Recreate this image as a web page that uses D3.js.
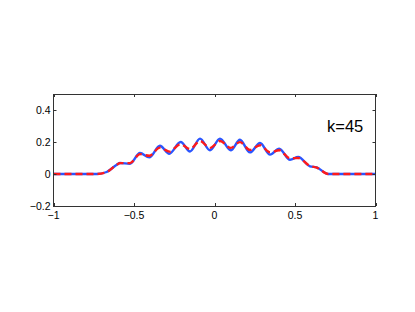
<html><head>
<meta charset="utf-8">
<script src="https://cdnjs.cloudflare.com/ajax/libs/d3/7.8.5/d3.min.js"></script>
<style>
  body { margin: 0; background: #fff; }
  .tick-label { font-family: "Liberation Sans", Arial, sans-serif; font-size: 10.5px; fill: #000; }
  .note { font-family: "Liberation Sans", Arial, sans-serif; font-size: 16.5px; fill: #000; }
</style>
</head>
<body>
<script>
// values
var xs = [-1, -0.732, -0.670, -0.607, -0.587, -0.525, -0.463, -0.405, -0.339, -0.281, -0.210,
          -0.152, -0.090, -0.028, 0.034, 0.101, 0.158, 0.220, 0.283, 0.345, 0.402,
          0.469, 0.520, 0.593, 0.635, 0.707, 1];
var blueY = [0, 0, 0.0125, 0.058, 0.069, 0.064, 0.131, 0.104, 0.177, 0.127, 0.200,
             0.141, 0.221, 0.148, 0.221, 0.148, 0.214, 0.135, 0.194, 0.121, 0.158,
             0.089, 0.106, 0.048, 0.041, 0, 0];
var redY = [0, 0, 0.012, 0.058, 0.068, 0.068, 0.124, 0.114, 0.165, 0.140, 0.186,
            0.156, 0.206, 0.163, 0.206, 0.163, 0.199, 0.151, 0.180, 0.136, 0.148,
            0.098, 0.100, 0.050, 0.040, 0, 0];
var xTicks = [-1, -0.5, 0, 0.5, 1];
var yTicks = [-0.2, 0, 0.2, 0.4];
var label = "k=45";

var W = 415, H = 312;
var axL = 53.5, axR = 375.5, axT = 94, axB = 206;

var svg = d3.select("body").append("svg")
    .attr("width", W).attr("height", H);

var x = d3.scaleLinear().domain([-1, 1]).range([axL, axR]);
var y = d3.scaleLinear().domain([-0.2, 0.5]).range([axB, axT]);

var fmt = function(v) { return (v < 0 ? "\u2212" : "") + String(Math.abs(v)); };

// curves: blue solid underneath, red dashed on top
var line = d3.line()
    .x(function(d) { return x(d[0]); })
    .y(function(d) { return y(d[1]); })
    .curve(d3.curveMonotoneX);

svg.append("path")
    .datum(xs.map(function(v, i) { return [v, blueY[i]]; }))
    .attr("d", line)
    .attr("fill", "none")
    .attr("stroke", "#2a55ff")
    .attr("stroke-width", 2.4);

svg.append("path")
    .datum(xs.map(function(v, i) { return [v, redY[i]]; }))
    .attr("d", line)
    .attr("fill", "none")
    .attr("stroke", "#ff1a1a")
    .attr("stroke-width", 2.4)
    .attr("stroke-dasharray", "7,4");

// box + inward ticks
var ax = svg.append("g").attr("stroke", "#333").attr("stroke-width", 1).attr("fill", "none");
ax.append("rect")
    .attr("x", axL).attr("y", axT + 0.5)
    .attr("width", axR - axL).attr("height", axB - axT);

xTicks.forEach(function(t) {
  var px = Math.round(x(t)) + 0.5;
  ax.append("line").attr("x1", px).attr("x2", px).attr("y1", axB).attr("y2", axB - 3);
  ax.append("line").attr("x1", px).attr("x2", px).attr("y1", axT).attr("y2", axT + 3);
  svg.append("text").attr("class", "tick-label")
      .attr("x", x(t)).attr("y", axB + 13)
      .attr("text-anchor", "middle")
      .text(fmt(t));
});

yTicks.forEach(function(t) {
  var py = Math.round(y(t)) + 0.5;
  ax.append("line").attr("x1", axL).attr("x2", axL + 3).attr("y1", py).attr("y2", py);
  ax.append("line").attr("x1", axR).attr("x2", axR - 3).attr("y1", py).attr("y2", py);
  svg.append("text").attr("class", "tick-label")
      .attr("x", axL - 3).attr("y", y(t) + 3.5)
      .attr("text-anchor", "end")
      .text(fmt(t));
});

svg.append("text").attr("class", "note")
    .attr("x", 327).attr("y", 132)
    .text(label);
</script>
</body></html>
